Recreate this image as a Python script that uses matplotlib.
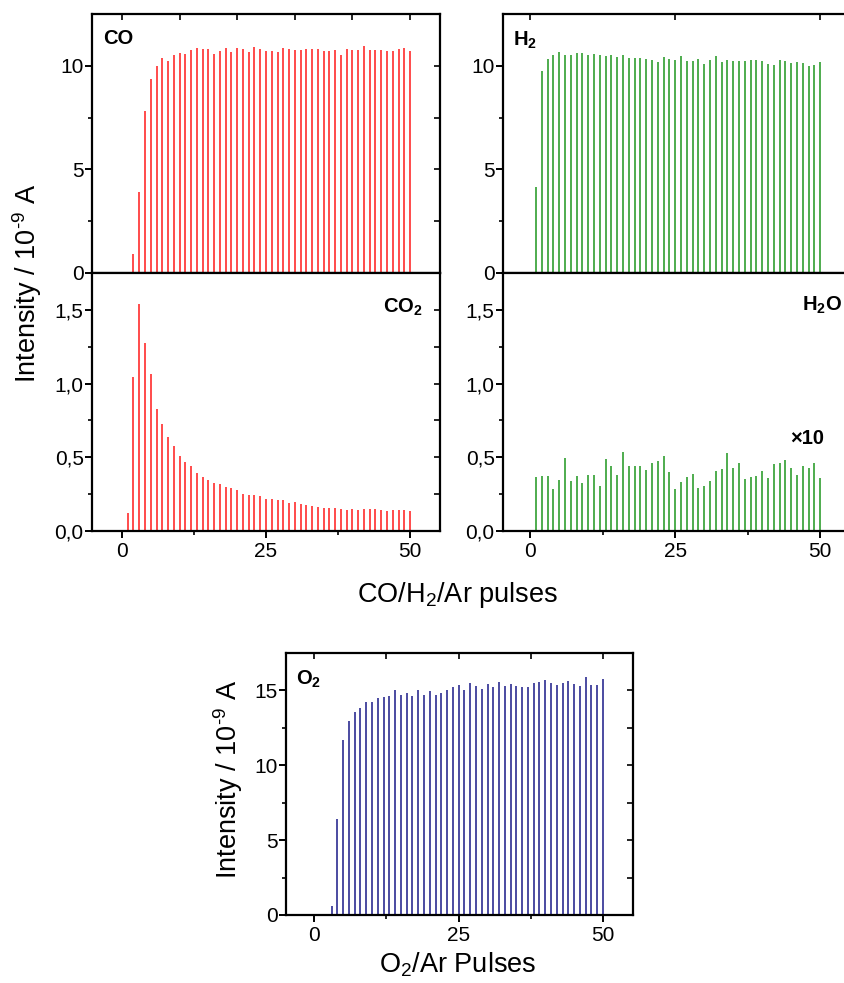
import matplotlib
matplotlib.use("Agg")
import matplotlib.pyplot as plt
from matplotlib.ticker import FixedLocator, FixedFormatter, NullFormatter

plt.rcParams['font.family'] = ['Liberation Sans', 'DejaVu Sans']
plt.rcParams['mathtext.fontset'] = 'custom'
plt.rcParams['mathtext.rm'] = 'Liberation Sans'
plt.rcParams['mathtext.bf'] = 'Liberation Sans:bold'
plt.rcParams['mathtext.default'] = 'regular'

# ---------------- data ----------------
pulses = list(range(1, 51))
co = [0.03, 0.9, 3.9, 7.8, 9.35, 9.97, 10.36, 10.24, 10.52, 10.62,
      10.57, 10.78, 10.85, 10.80, 10.80, 10.55, 10.70, 10.85, 10.68, 10.85,
      10.80, 10.67, 10.89, 10.83, 10.72, 10.72, 10.68, 10.85, 10.81, 10.76,
      10.78, 10.80, 10.83, 10.80, 10.72, 10.73, 10.76, 10.50, 10.83, 10.78,
      10.78, 10.94, 10.75, 10.75, 10.78, 10.72, 10.72, 10.83, 10.85, 10.70]
h2 = [4.16, 9.73, 10.35, 10.53, 10.69, 10.54, 10.53, 10.61, 10.64, 10.51,
      10.56, 10.50, 10.46, 10.53, 10.43, 10.51, 10.40, 10.40, 10.37, 10.34,
      10.30, 10.18, 10.43, 10.32, 10.30, 10.48, 10.22, 10.21, 10.34, 10.11,
      10.29, 10.46, 10.18, 10.30, 10.21, 10.22, 10.22, 10.29, 10.26, 10.22,
      10.08, 10.06, 10.30, 10.24, 10.13, 10.16, 10.13, 9.98, 10.06, 10.18]
co2 = [0.124, 1.047, 1.538, 1.278, 1.068, 0.830, 0.728, 0.640, 0.575, 0.511,
       0.468, 0.439, 0.396, 0.367, 0.344, 0.324, 0.321, 0.296, 0.292, 0.278,
       0.253, 0.247, 0.244, 0.240, 0.217, 0.219, 0.213, 0.208, 0.190, 0.197,
       0.183, 0.179, 0.170, 0.165, 0.154, 0.158, 0.154, 0.152, 0.145, 0.149,
       0.143, 0.152, 0.149, 0.149, 0.140, 0.138, 0.143, 0.140, 0.140, 0.133]
h2o_x10 = [0.364, 0.375, 0.370, 0.284, 0.348, 0.495, 0.341, 0.370, 0.327, 0.382,
           0.382, 0.307, 0.489, 0.439, 0.382, 0.539, 0.443, 0.443, 0.439, 0.414,
           0.461, 0.477, 0.511, 0.400, 0.286, 0.334, 0.364, 0.389, 0.295, 0.307,
           0.336, 0.405, 0.420, 0.532, 0.425, 0.459, 0.350, 0.368, 0.375, 0.405,
           0.359, 0.455, 0.464, 0.482, 0.430, 0.382, 0.443, 0.430, 0.459, 0.359]
o2_pulses = list(range(3, 51))
o2 = [0.62, 6.38, 11.71, 12.98, 13.53, 13.80, 14.20, 14.24, 14.51, 14.58,
      14.64, 15.02, 14.71, 14.84, 14.60, 15.04, 14.69, 14.93, 14.69, 14.80,
      15.04, 15.22, 15.33, 15.00, 15.51, 15.31, 15.11, 15.44, 15.22, 15.53,
      15.27, 15.40, 15.29, 15.22, 15.22, 15.51, 15.53, 15.71, 15.47, 15.38,
      15.51, 15.64, 15.40, 15.29, 15.87, 15.38, 15.36, 15.73]

x_major = [0, 25, 50]
x_labels = ['0', '25', '50']
big_ticks = [0, 5, 10]
big_labels = ['0', '5', '10']
o2_ticks = [0, 5, 10, 15]
o2_labels = ['0', '5', '10', '15']
small_ticks = [0.0, 0.5, 1.0, 1.5]
small_labels = ['0,0', '0,5', '1,0', '1,5']

RED = '#ff1a1a'
GREEN = '#1e961e'
NAVY = '#1a1a88'

W, H = 845, 983
fig = plt.figure(figsize=(W / 100, H / 100), dpi=100)


def add_ax(left, top, right, bottom):
    return fig.add_axes([left / W, 1 - bottom / H, (right - left) / W, (bottom - top) / H])


TL = 15  # tick label size


def style(ax, ymaj, ylab, ymin_step, ylim, xlim, top_ticks, bottom_labels=True,
          bottom_ticks=None):
    ax.set_xlim(*xlim)
    ax.set_ylim(*ylim)
    for s in ax.spines.values():
        s.set_linewidth(1.6)
    ax.yaxis.set_major_locator(FixedLocator(ymaj))
    ax.yaxis.set_major_formatter(FixedFormatter(ylab))
    yminors = []
    v = ymin_step
    while v < ylim[1]:
        yminors.append(round(v, 4))
        v += ymin_step * 2
    ax.yaxis.set_minor_locator(FixedLocator(yminors))
    if bottom_ticks is None:
        ax.xaxis.set_major_locator(FixedLocator(x_major))
        ax.xaxis.set_minor_locator(FixedLocator([12.5, 37.5]))
    else:
        ax.xaxis.set_major_locator(FixedLocator(bottom_ticks))
        ax.xaxis.set_minor_locator(FixedLocator([]))
    if bottom_labels:
        ax.xaxis.set_major_formatter(FixedFormatter(x_labels))
    else:
        ax.xaxis.set_major_formatter(NullFormatter())
    ax.tick_params(axis='both', which='major', direction='out', length=5, width=1.4,
                   labelsize=TL, pad=1)
    ax.tick_params(axis='both', which='minor', direction='out', length=3, width=1.2)
    ax.tick_params(axis='x', which='major', pad=3)
    # right-side inward ticks
    r = ax.secondary_yaxis('right')
    r.yaxis.set_major_locator(FixedLocator(sorted(list(ymaj) + yminors)))
    r.yaxis.set_major_formatter(NullFormatter())
    r.tick_params(direction='in', length=4, width=1.2)
    r.spines['right'].set_visible(False)
    t = ax.secondary_xaxis('top')
    t.xaxis.set_major_locator(FixedLocator(top_ticks))
    t.xaxis.set_major_formatter(NullFormatter())
    t.tick_params(direction='in', length=4, width=1.2)
    t.spines['top'].set_visible(False)


lw = 1.1
# CO
ax1 = add_ax(92, 14, 440, 273)
ax1.vlines(pulses, 0, co, color=RED, lw=lw)
style(ax1, big_ticks, big_labels, 2.5, (0, 12.5), (-5.2, 55.2),
      [0, 10, 20, 30, 40, 50], bottom_labels=False, bottom_ticks=[0, 20, 40])
ax1.text(0.032, 0.905, 'CO', transform=ax1.transAxes, fontsize=14.5, fontweight='bold',
         va='center', ha='left')

# CO2
ax2 = add_ax(92, 273, 440, 531)
ax2.vlines(pulses, 0, co2, color=RED, lw=lw)
style(ax2, small_ticks, small_labels, 0.25, (0, 1.75), (-5.2, 55.2), [])
ax2.text(0.835, 0.865, r'$\mathbf{CO_2}$', transform=ax2.transAxes, fontsize=14.5,
         va='center', ha='left')

# H2
ax3 = add_ax(503, 14, 851, 273)
ax3.vlines(pulses, 0, h2, color=GREEN, lw=lw)
style(ax3, big_ticks, big_labels, 2.5, (0, 12.5), (-4.7, 55.3),
      [0, 25, 50], bottom_labels=False, bottom_ticks=[0, 25, 50])
ax3.text(0.03, 0.9, r'$\mathbf{H_2}$', transform=ax3.transAxes, fontsize=14.5,
         va='center', ha='left')

# H2O
ax4 = add_ax(503, 273, 851, 531)
ax4.vlines(pulses, 0, h2o_x10, color=GREEN, lw=lw)
style(ax4, small_ticks, small_labels, 0.25, (0, 1.75), (-4.7, 55.3), [])
ax4.text(0.86, 0.875, r'$\mathbf{H_2O}$', transform=ax4.transAxes, fontsize=14.5,
         va='center', ha='left')
ax4.text(0.825, 0.36, '×10', transform=ax4.transAxes, fontsize=14.5, fontweight='bold',
         va='center', ha='left')

# O2
ax5 = add_ax(286, 653, 633, 915)
ax5.vlines(o2_pulses, 0, o2, color=NAVY, lw=lw)
style(ax5, o2_ticks, o2_labels, 2.5, (0, 17.5), (-4.9, 55.2),
      [0, 12.5, 25, 37.5, 50])
ax5.text(0.03, 0.9, r'$\mathbf{O_2}$', transform=ax5.transAxes, fontsize=14.5,
         va='center', ha='left')

# labels
ylab = 'Intensity / 10$^{\u2010' + '9}$ A'
fig.text(27 / W, 1 - 283 / H, ylab, rotation=90, fontsize=19.5,
         ha='center', va='center')
fig.text(458 / W, 1 - 595 / H, r'CO/H$_2$/Ar pulses', fontsize=19.5,
         ha='center', va='center')
fig.text(228 / W, 1 - 779 / H, ylab, rotation=90, fontsize=19.5,
         ha='center', va='center')
fig.text(458 / W, 1 - 965 / H, r'O$_2$/Ar Pulses', fontsize=19.5,
         ha='center', va='center')

fig.savefig('out.png', dpi=100)
